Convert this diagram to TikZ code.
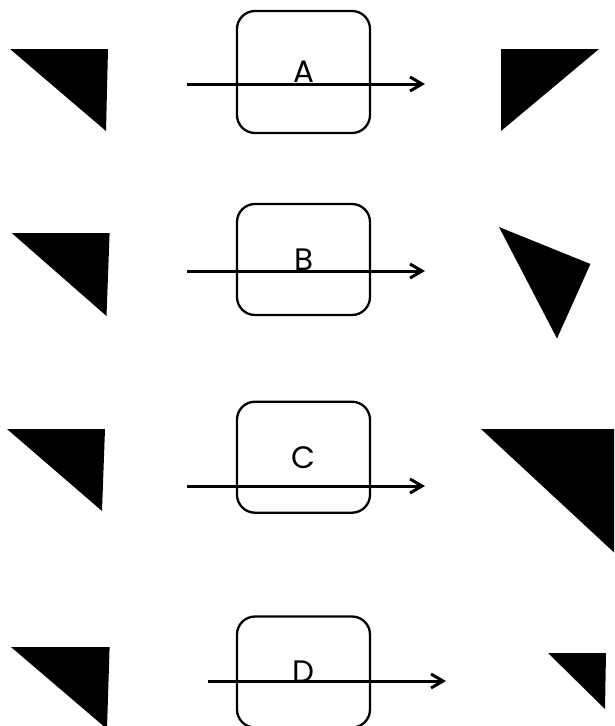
\documentclass[tikz,border=0pt]{standalone}
\usepackage{fontspec}
\setmainfont{Poppins}
\usetikzlibrary{arrows.meta}
\begin{document}
\begin{tikzpicture}[x=1pt,y=-1pt,
  stage/.style={draw, line width=2.3pt, rounded corners=18pt, minimum width=133pt,
    inner sep=0pt, font=\fontsize{31}{31}\selectfont},
  flow/.style={line width=3pt,
    -{Straight Barb[length=12pt,width=14pt,line width=3pt]}},
  wedge/.style={fill=black}]
\useasboundingbox (0,0) rectangle (614,726);
\begin{scope}
\clip (0,0) rectangle (614,726);

% transformation boxes
\node[stage, minimum height=122pt] (boxA) at (303.5,72) {A};
\node[stage, minimum height=111pt] (boxB) at (303.5,259.5) {B};
\node[stage, minimum height=111pt] (boxC) at (303.5,457.2) {C};
\node[stage, minimum height=111pt] (boxD) at (303.5,672) {D};

% arrows through the boxes
\coordinate (inA) at (187,84);   \coordinate (outA) at (425,84);
\coordinate (inB) at (187,271);  \coordinate (outB) at (425,271);
\coordinate (inC) at (187,486);  \coordinate (outC) at (425,486);
\coordinate (inD) at (207.5,681); \coordinate (outD) at (446,681);
\draw[flow] (inA) -- (outA);
\draw[flow] (inB) -- (outB);
\draw[flow] (inC) -- (outC);
\draw[flow] (inD) -- (outD);

% source triangles
\fill[wedge] (10,49) -- (108,49) -- (106,131) -- cycle;
\fill[wedge] (11.7,233) -- (109.6,233) -- (106.5,316) -- cycle;
\fill[wedge] (7,429) -- (105,429) -- (102,511) -- cycle;
\fill[wedge] (11,647) -- (109.6,647) -- (107,729) -- cycle;

% transformed triangles
\fill[wedge] (501,49) -- (599,49) -- (501,131) -- cycle;
\fill[wedge] (499,227) -- (590.4,264) -- (557,338.5) -- cycle;
\fill[wedge] (481,429) -- (680,429) -- (675,609) -- cycle;
\fill[wedge] (548,653) -- (606,653) -- (605,709) -- cycle;
\end{scope}
\end{tikzpicture}
\end{document}
